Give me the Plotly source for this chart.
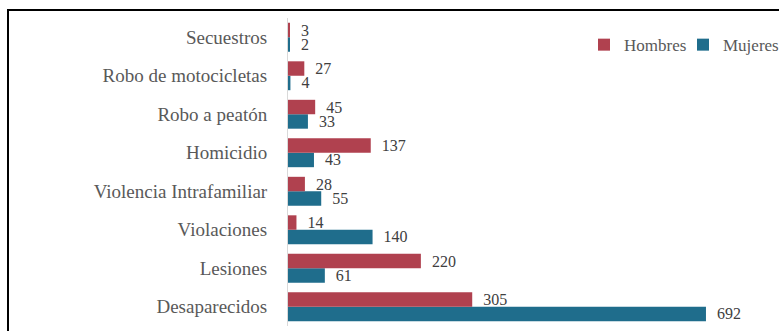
import plotly.graph_objects as go

categories = ["Desaparecidos", "Lesiones", "Violaciones", "Violencia Intrafamiliar",
              "Homicidio", "Robo a peatón", "Robo de motocicletas", "Secuestros"]
hombres = [305, 220, 14, 28, 137, 45, 27, 3]
mujeres = [692, 61, 140, 55, 43, 33, 4, 2]

W, H = 779, 331
ml, mr, mt, mb = 288, 0, 18, 5
pw, ph = W - ml - mr, H - mt - mb

font = "Liberation Serif"
red = "#b0414f"
blue = "#1f6d8c"

fig = go.Figure()
fig.add_trace(go.Bar(y=categories, x=mujeres, name="Mujeres", orientation="h",
                     marker=dict(color=blue, line=dict(width=0)),
                     texttemplate="  %{x}", textposition="outside",
                     constraintext="none",
                     textfont=dict(family=font, size=16, color="#404040"),
                     cliponaxis=False))
fig.add_trace(go.Bar(y=categories, x=hombres, name="Hombres", orientation="h",
                     marker=dict(color=red, line=dict(width=0)),
                     texttemplate="  %{x}", textposition="outside",
                     constraintext="none",
                     textfont=dict(family=font, size=16, color="#404040"),
                     cliponaxis=False))

fig.update_layout(
    width=W, height=H,
    margin=dict(l=ml, r=mr, t=mt, b=mb, autoexpand=False),
    barmode="group", bargap=0.25, bargroupgap=0,
    plot_bgcolor="white", paper_bgcolor="white",
    font=dict(family=font, color="#595959"),
    showlegend=True,
    legend=dict(orientation="h", traceorder="reversed",
                xref="container", x=584 / W, y=0.912,
                xanchor="left", yanchor="middle",
                entrywidth=54, entrywidthmode="pixels",
                font=dict(family=font, size=17, color="#595959"),
                itemwidth=30, bgcolor="rgba(0,0,0,0)"),
    xaxis=dict(range=[0, pw / 0.604], showgrid=False, zeroline=False,
               showticklabels=False, showline=False, fixedrange=True),
    yaxis=dict(showgrid=False, zeroline=False, showline=True,
               linecolor="#d9d9d9", linewidth=1,
               ticks="outside", ticklen=0, ticklabelstandoff=16,
               tickfont=dict(family=font, size=19, color="#595959")),
    shapes=[dict(type="rect", xref="paper", yref="paper",
                 x0=(8 - ml) / pw, x1=1.2,
                 y0=-0.2, y1=1 + (mt - 10) / ph,
                 line=dict(color="black", width=2), layer="above")],
)

fig.write_html("out.html")
